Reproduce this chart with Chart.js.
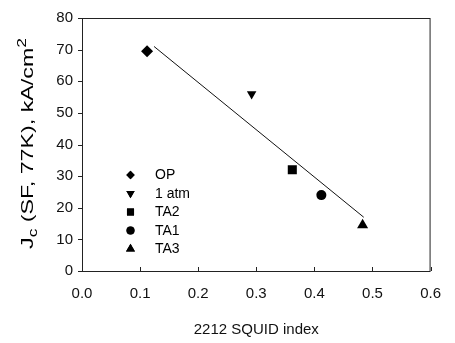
<!DOCTYPE html>
<html><head><meta charset="utf-8">
<script src="https://cdn.jsdelivr.net/npm/chart.js@4/dist/chart.umd.min.js"></script>
<style>html,body{margin:0;padding:0;background:#fff}#w{width:455px;height:343px}</style>
</head><body><div id="w"><canvas id="c"></canvas></div>
<script>
const sampleNames = ["OP", "1 atm", "TA2", "TA1", "TA3"];
const squidIndex = [0.112, 0.292, 0.362, 0.412, 0.483];
const jcValues = [69.5, 56, 32, 24, 14.5];
const pointShapes = ["rectRot", "triangle", "rect", "circle", "triangle"];
const pointRotations = [0, 180, 0, 0, 0];
const pointSizes = [6, 5.5, 6.4, 5, 6.4];
const legendSizes = [4.2, 4.8, 5, 4, 5.2];
const fitX = [0.124, 0.485];
const fitY = [71, 17];
const xTicks = [0, 0.1, 0.2, 0.3, 0.4, 0.5, 0.6];
const yTicks = [0, 10, 20, 30, 40, 50, 60, 70, 80];

const FONT = "'Liberation Sans', Arial, sans-serif";

const datasets = sampleNames.map((n, i) => ({
  type: 'scatter', label: n,
  data: [{x: squidIndex[i], y: jcValues[i]}],
  pointStyle: pointShapes[i], rotation: pointRotations[i],
  pointRadius: pointSizes[i], backgroundColor: '#000', borderColor: '#000', borderWidth: 0
}));
datasets.push({
  type: 'line', label: 'fit',
  data: fitX.map((x, i) => ({x, y: fitY[i]})),
  borderColor: '#111', borderWidth: 1, pointRadius: 0, fill: false
});

const deco = {
  id: 'deco',
  afterDraw(chart) {
    const ctx = chart.ctx, a = chart.chartArea;
    const xs = chart.scales.x, ys = chart.scales.y;
    ctx.save();
    ctx.strokeStyle = '#222'; ctx.lineWidth = 1;
    ctx.strokeRect(a.left + 0.5, a.top + 0.5, a.right - a.left - 1, a.bottom - a.top);
    ctx.beginPath();
    xTicks.forEach(v => { const px = Math.round(xs.getPixelForValue(v)) + 0.5; ctx.moveTo(px, a.bottom); ctx.lineTo(px, a.bottom - 4); });
    yTicks.forEach(v => { const py = Math.round(ys.getPixelForValue(v)) + 0.5; ctx.moveTo(a.left - 4, py); ctx.lineTo(a.left, py); });
    ctx.stroke();
    // legend
    ctx.fillStyle = '#000';
    ctx.font = '14px ' + FONT;
    ctx.textBaseline = 'middle';
    sampleNames.forEach((n, i) => {
      const y = 175 + i * 18.5;
      Chart.helpers.drawPoint(ctx, {pointStyle: pointShapes[i], rotation: pointRotations[i], radius: legendSizes[i], borderWidth: 0}, 130.5, y);
      ctx.fill();
      ctx.fillText(n, 155, y + 0.5);
    });
    // y title with sub/superscript
    ctx.translate(27, 143.5);
    ctx.rotate(-Math.PI / 2);
    const parts = [
      {t: 'J', s: 16, dy: 0}, {t: 'c', s: 12, dy: 4},
      {t: ' (SF, 77K), kA/cm', s: 16, dy: 0}, {t: '2', s: 12, dy: -7}
    ];
    let total = 0;
    parts.forEach(p => { ctx.font = p.s + 'px ' + FONT; total += ctx.measureText(p.t).width; });
    ctx.scale(211 / total, 1);
    let x = -total / 2;
    ctx.textBaseline = 'alphabetic';
    parts.forEach(p => { ctx.font = p.s + 'px ' + FONT; ctx.fillText(p.t, x, 6 + p.dy); x += ctx.measureText(p.t).width; });
    ctx.restore();
  }
};

new Chart(document.getElementById('c'), {
  data: {datasets},
  options: {
    responsive: true, maintainAspectRatio: false, animation: false,
    layout: {padding: {left: 0, right: 14, top: 18, bottom: 0}},
    plugins: {legend: {display: false}, tooltip: {enabled: false}},
    scales: {
      x: {
        type: 'linear', min: 0, max: 0.6,
        afterBuildTicks: s => { s.ticks = xTicks.map(v => ({value: v})); },
        afterFit: s => { s.height = 72; },
        grid: {display: false, drawTicks: false},
        border: {display: false},
        ticks: {color: '#111', font: {family: FONT, size: 15}, padding: 14, callback: v => v.toFixed(1), maxRotation: 0},
        title: {display: true, text: '2212 SQUID index', color: '#111', font: {family: FONT, size: 15}, padding: {top: 11}}
      },
      y: {
        type: 'linear', min: 0, max: 80,
        afterBuildTicks: s => { s.ticks = yTicks.map(v => ({value: v})); },
        afterFit: s => { s.width = 82; },
        grid: {display: false, drawTicks: false},
        border: {display: false},
        ticks: {color: '#111', font: {family: FONT, size: 15}, padding: 9}
      }
    }
  },
  plugins: [deco]
});
</script></body></html>
